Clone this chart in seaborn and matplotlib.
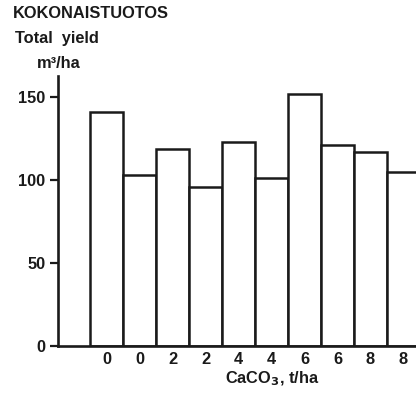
import matplotlib
matplotlib.use("Agg")
import matplotlib.pyplot as plt
import seaborn as sns
import pandas as pd

plots = ["p1", "p2", "p3", "p4", "p5", "p6", "p7", "p8", "p9", "p10"]
caco3 = ["0", "0", "2", "2", "4", "4", "6", "6", "8", "8"]
total_yield = [141, 103, 119, 96, 123, 101, 152, 121, 117, 105]
yticks = [0, 50, 100, 150]

df = pd.DataFrame({"plot": plots, "yield": total_yield})

sns.set_style("white")
plt.rcParams["font.family"] = ["Liberation Sans", "DejaVu Sans"]
plt.rcParams["font.weight"] = "bold"

INK = "#1a1a1a"
fig = plt.figure(figsize=(4.16, 3.97), dpi=100)
ax = fig.add_axes([58 / 416, 51 / 397, 1 - 58 / 416, (346 - 76) / 397])

sns.barplot(data=df, x="plot", y="yield", order=plots, width=1.0,
            color="white", edgecolor=INK, linewidth=1.8, ax=ax)

ax.set_xlim(-1.47, 9.38)
ax.set_ylim(0, 162.7)
ax.set_yticks(yticks)
ax.set_yticklabels([str(v) for v in yticks], fontsize=11.8, fontweight="bold", color=INK)
ax.set_xticks(range(len(plots)))
ax.set_xticklabels(caco3, fontsize=11.8, fontweight="bold", color=INK)
ax.tick_params(axis="y", length=6, width=1.6, pad=3, color=INK, left=True)
ax.tick_params(axis="x", length=0, pad=4)
ax.set_xlabel("")
ax.set_ylabel("")
sns.despine(ax=ax, top=True, right=True)
for s in ["left", "bottom"]:
    ax.spines[s].set_linewidth(1.9)
    ax.spines[s].set_color(INK)

fig.text(272 / 416, 1 - 379 / 397, r"CaCO$_\mathbf{3}$, t/ha", ha="center", va="center",
         fontsize=11.8, fontweight="bold", color=INK)
fig.text(13 / 416, 1 - 14 / 397, "KOKONAISTUOTOS", ha="left", va="center",
         fontsize=11.8, fontweight="bold", color=INK)
fig.text(15 / 416, 1 - 39 / 397, "Total  yield", ha="left", va="center",
         fontsize=11.8, fontweight="bold", color=INK)
fig.text(37 / 416, 1 - 63 / 397, "m³/ha", ha="left", va="center",
         fontsize=11.8, fontweight="bold", color=INK)

fig.savefig("out.png", dpi=100, facecolor="white")
